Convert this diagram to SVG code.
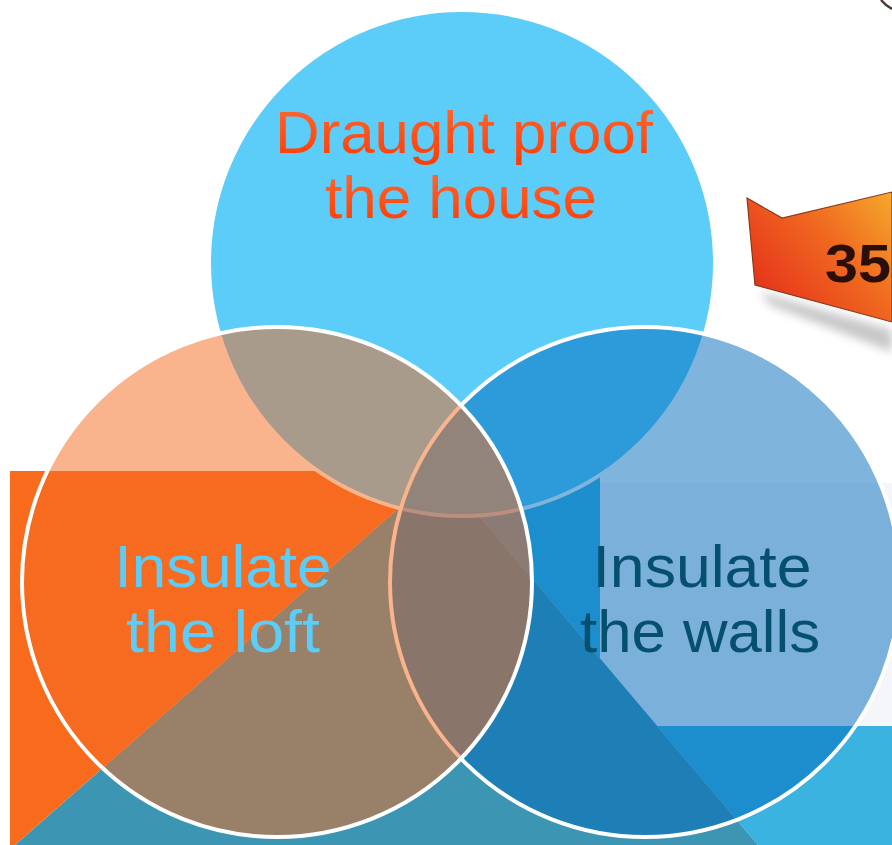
<svg xmlns="http://www.w3.org/2000/svg" width="892" height="845" viewBox="0 0 892 845">
  <defs>
    <linearGradient id="gDraught" x1="0" y1="0" x2="0" y2="1">
      <stop offset="0" stop-color="#ff6b36"/>
      <stop offset="1" stop-color="#ff3a00"/>
    </linearGradient>
    <linearGradient id="gBanner" gradientUnits="userSpaceOnUse" x1="760" y1="300" x2="892" y2="190">
      <stop offset="0" stop-color="#e5311c"/>
      <stop offset="0.55" stop-color="#f06a20"/>
      <stop offset="1" stop-color="#f5ab2c"/>
    </linearGradient>
    <filter id="blur" x="-20%" y="-50%" width="140%" height="200%">
      <feGaussianBlur stdDeviation="5"/>
    </filter>
    <style>
      .ring { stroke: #ffffff; stroke-width: 4; }
      .lbl { font-family: "Liberation Sans", Arial, sans-serif; font-size: 60px; text-anchor: middle; }
    </style>
  </defs>

  <rect x="0" y="0" width="892" height="845" fill="#ffffff"/>

  <g id="background">
    <rect x="600" y="483" width="292" height="243" fill="#f5f6f9"/>
    <polygon points="441,471 600,471 600,726 892,726 892,845 758,845" fill="#3bb3e0"/>
    <polygon points="441,471 758,845 15,845" fill="#3c95b3"/>
    <polygon points="10,471 441,471 15,845 10,845" fill="#f86b1d"/>
    <path d="M881,0 Q886,6 892,9" fill="none" stroke="#4a3a35" stroke-width="2.5"/>
  </g>

  <g id="banner">
    <polygon points="760,292 892,330 892,352 770,305" fill="#9a9a9a" opacity="0.55" filter="url(#blur)"/>
    <polygon points="747,198 782,218 892,192 892,322 755,285" fill="url(#gBanner)" stroke="#8a3a1c" stroke-width="1.2"/>
    <text x="825" y="282" font-family="'Liberation Sans', Arial, sans-serif" font-size="53" font-weight="bold" fill="#2a0f08" textLength="66" lengthAdjust="spacingAndGlyphs">35</text>
  </g>

  <g id="node-draught">
    <circle class="ring" cx="462" cy="263" r="253" fill="#5bcdf8"/>
    <text class="lbl" fill="url(#gDraught)" x="464" y="153" textLength="378" lengthAdjust="spacingAndGlyphs">Draught proof</text>
    <text class="lbl" fill="url(#gDraught)" x="461" y="218" textLength="272" lengthAdjust="spacingAndGlyphs">the house</text>
  </g>

  <g id="node-walls">
    <circle class="ring" cx="645" cy="582" r="255" fill="#0069b9" fill-opacity="0.5"/>
    <text class="lbl" fill="#05506f" x="702" y="587" textLength="219" lengthAdjust="spacingAndGlyphs">Insulate</text>
    <text class="lbl" fill="#05506f" x="700" y="652" textLength="240" lengthAdjust="spacingAndGlyphs">the walls</text>
  </g>

  <g id="node-loft">
    <circle class="ring" cx="277" cy="582" r="255" fill="#f36c21" fill-opacity="0.51"/>
    <text class="lbl" fill="#5bcdf8" x="223" y="587" textLength="217" lengthAdjust="spacingAndGlyphs">Insulate</text>
    <text class="lbl" fill="#5bcdf8" x="223" y="652" textLength="194" lengthAdjust="spacingAndGlyphs">the loft</text>
  </g>

  <g id="connectors"/>
</svg>
